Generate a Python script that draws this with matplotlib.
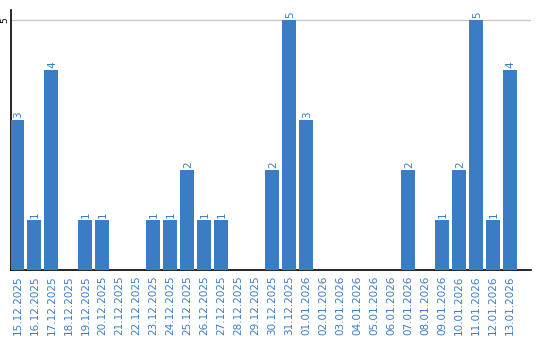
import matplotlib.pyplot as plt

# data
dates = ['15.12.2025', '16.12.2025', '17.12.2025', '18.12.2025', '19.12.2025',
         '20.12.2025', '21.12.2025', '22.12.2025', '23.12.2025', '24.12.2025',
         '25.12.2025', '26.12.2025', '27.12.2025', '28.12.2025', '29.12.2025',
         '30.12.2025', '31.12.2025', '01.01.2026', '02.01.2026', '03.01.2026',
         '04.01.2026', '05.01.2026', '06.01.2026', '07.01.2026', '08.01.2026',
         '09.01.2026', '10.01.2026', '11.01.2026', '12.01.2026', '13.01.2026']
counts = [3, 1, 4, 0, 1, 1, 0, 0, 1, 1, 2, 1, 1, 0, 0,
          2, 5, 3, 0, 0, 0, 0, 0, 2, 0, 1, 2, 5, 1, 4]

blue = '#3b7dc4'

fig = plt.figure(figsize=(5.4, 3.4), dpi=100)
ax = fig.add_axes([10.5 / 540, 70 / 340, 520.5 / 540, 260 / 340])

x = list(range(len(dates)))
ax.bar(x, counts, width=0.82, color=blue, zorder=3)

for xi, c in zip(x, counts):
    if c > 0:
        ax.text(xi + 0.05, c + 0.04, str(c), rotation=90, ha='center', va='bottom',
                color=blue, fontsize=7.5, zorder=4)

ax.set_xlim(-0.41, 30.24)
ax.set_ylim(0, 5.2)
ax.set_xticks(x)
ax.set_xticklabels(dates, rotation=90, color=blue, fontsize=7.5)
ax.set_yticks([5])
ax.set_yticklabels(['5'], rotation=90, va='center', fontsize=6.5)
ax.tick_params(axis='x', length=0, pad=4)
ax.tick_params(axis='y', length=0, pad=1)
ax.axhline(5, color='#c8c8c8', lw=1, zorder=1)

for s in ['top', 'right']:
    ax.spines[s].set_visible(False)
ax.spines['left'].set_linewidth(1.2)
ax.spines['bottom'].set_linewidth(1.2)

fig.savefig('out.png', dpi=100)
